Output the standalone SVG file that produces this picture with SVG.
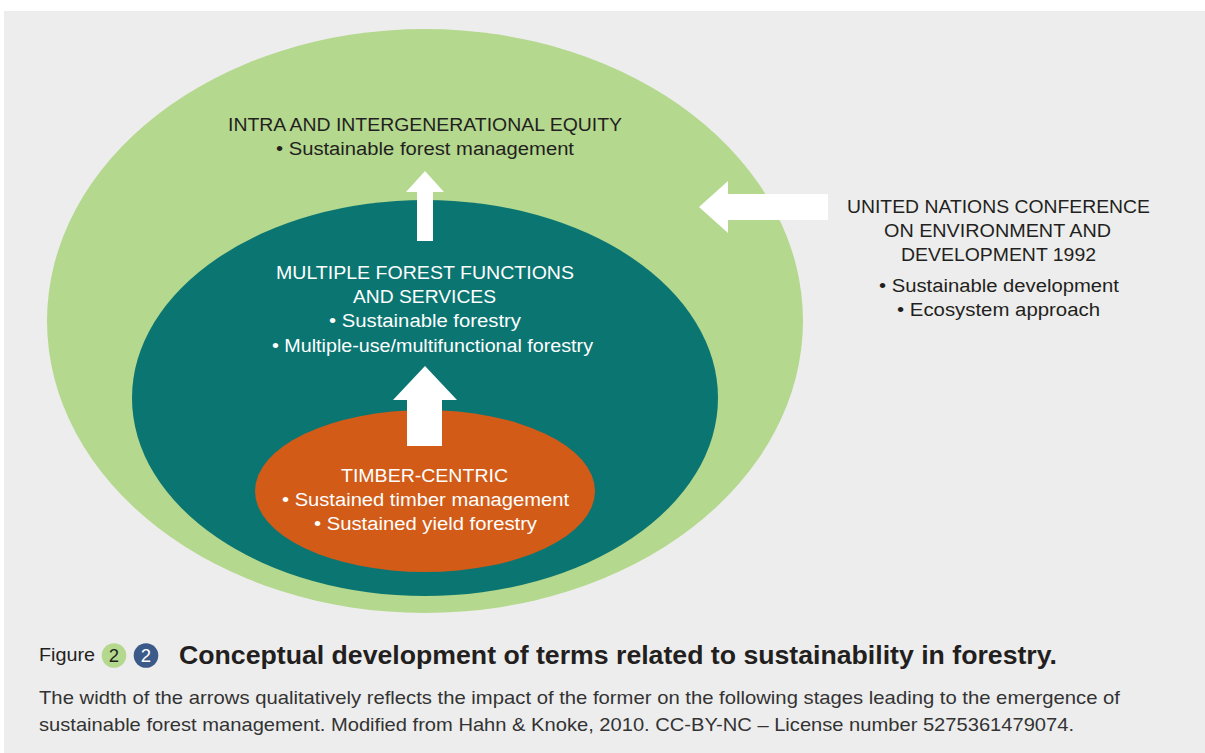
<svg xmlns="http://www.w3.org/2000/svg" width="1205" height="753" viewBox="0 0 1205 753">
<style>
text{font-family:"Liberation Sans",Arial,sans-serif;font-size:18px;}
.c{text-anchor:middle;}
.dk{fill:#231f20;}
.w{fill:#ffffff;}
.arrow{fill:#ffffff;}
</style>
<rect x="0" y="0" width="1205" height="753" fill="#ffffff"/>
<rect x="4" y="11" width="1201" height="742" fill="#ededed"/>
<g id="outer">
<ellipse cx="425" cy="321" rx="378" ry="292" fill="#b4d88e"/>
<text class="c dk" x="425" y="131" textLength="394" lengthAdjust="spacingAndGlyphs">INTRA AND INTERGENERATIONAL EQUITY</text>
<text class="c dk" x="425" y="155" textLength="298" lengthAdjust="spacingAndGlyphs">• Sustainable forest management</text>
</g>
<g id="middle">
<ellipse cx="425" cy="398" rx="293" ry="198" fill="#0b7572"/>
<text class="c w" x="425" y="279" textLength="298" lengthAdjust="spacingAndGlyphs">MULTIPLE FOREST FUNCTIONS</text>
<text class="c w" x="424.5" y="303" textLength="143" lengthAdjust="spacingAndGlyphs">AND SERVICES</text>
<text class="c w" x="425" y="327" textLength="192" lengthAdjust="spacingAndGlyphs">• Sustainable forestry</text>
<text class="c w" x="432.5" y="352" textLength="321" lengthAdjust="spacingAndGlyphs">• Multiple-use/multifunctional forestry</text>
</g>
<g id="inner">
<ellipse cx="425" cy="491" rx="170" ry="81" fill="#d25b18"/>
<text class="c w" x="424.5" y="482" textLength="167" lengthAdjust="spacingAndGlyphs">TIMBER-CENTRIC</text>
<text class="c w" x="425.5" y="506" textLength="287" lengthAdjust="spacingAndGlyphs">• Sustained timber management</text>
<text class="c w" x="425.5" y="530" textLength="223" lengthAdjust="spacingAndGlyphs">• Sustained yield forestry</text>
</g>
<g id="unced">
<text class="c dk" x="998.5" y="212.5" textLength="303" lengthAdjust="spacingAndGlyphs">UNITED NATIONS CONFERENCE</text>
<text class="c dk" x="997.5" y="236.5" textLength="227" lengthAdjust="spacingAndGlyphs">ON ENVIRONMENT AND</text>
<text class="c dk" x="998.5" y="260.5" textLength="195" lengthAdjust="spacingAndGlyphs">DEVELOPMENT 1992</text>
<text class="c dk" x="999" y="291.5" textLength="240" lengthAdjust="spacingAndGlyphs">• Sustainable development</text>
<text class="c dk" x="998.5" y="315.5" textLength="203" lengthAdjust="spacingAndGlyphs">• Ecosystem approach</text>
</g>
<g id="connectors">
<polygon class="arrow" points="417,241 417,192 406,192 425,171 444,192 433,192 433,241"/>
<polygon class="arrow" points="407,446 407,400 393,400 425,366 457,400 442,400 442,446"/>
<polygon class="arrow" points="828,194 728,194 728,181 699,207 728,233 728,220 828,220"/>
</g>
<g id="caption">
<text x="39" y="661" fill="#231f20" style="font-size:18.5px" textLength="56" lengthAdjust="spacingAndGlyphs">Figure</text>
<circle cx="114" cy="655.5" r="12.3" fill="#b4d88e"/>
<text class="c" x="114" y="662" fill="#231f20" style="font-size:18.5px">2</text>
<circle cx="146" cy="655.5" r="12.3" fill="#3b5a8a"/>
<text class="c" x="146" y="662" fill="#ffffff" style="font-size:18.5px">2</text>
<text x="179" y="663.5" fill="#231f20" style="font-size:26px;font-weight:bold" textLength="878" lengthAdjust="spacingAndGlyphs">Conceptual development of terms related to sustainability in forestry.</text>
<text x="39" y="704" fill="#333333" style="font-size:18.5px" textLength="1081" lengthAdjust="spacingAndGlyphs">The width of the arrows qualitatively reflects the impact of the former on the following stages leading to the emergence of</text>
<text x="39" y="730.5" fill="#333333" style="font-size:18.5px" textLength="1035" lengthAdjust="spacingAndGlyphs">sustainable forest management. Modified from Hahn &amp; Knoke, 2010. CC-BY-NC – License number 5275361479074.</text>
</g>
</svg>
